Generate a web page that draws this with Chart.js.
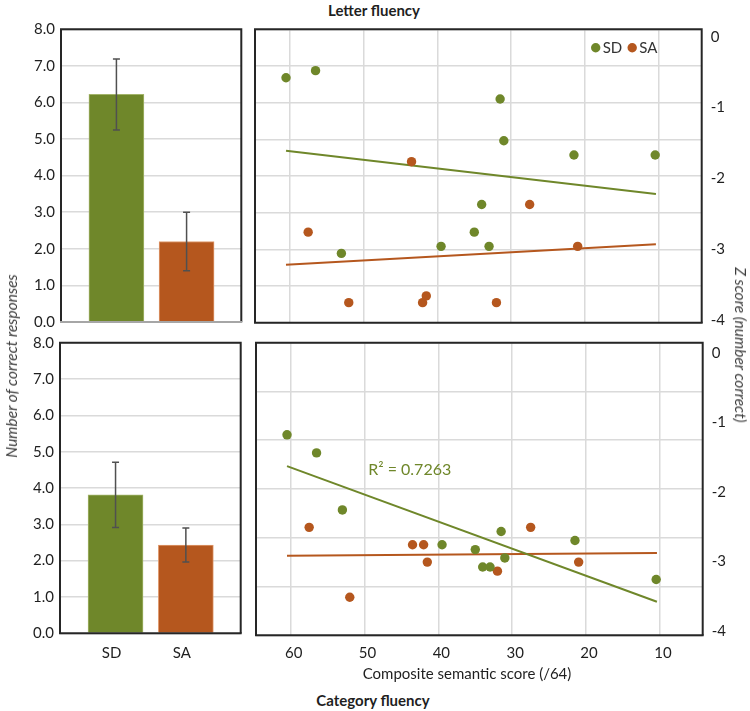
<!DOCTYPE html>
<html><head><meta charset="utf-8">
<script src="https://cdn.jsdelivr.net/npm/chart.js@4/dist/chart.umd.min.js"></script>
<style>
html,body{margin:0;padding:0;background:#fff;width:750px;height:711px;overflow:hidden;font-family:Lato,'Open Sans',sans-serif;}
canvas{position:absolute;}
.t{position:absolute;white-space:nowrap;color:#1f1f1f;transform:translate(-50%,-50%);}
</style></head><body>
<canvas id="barTop" width="250" height="310" style="left:0;top:20px"></canvas>
<canvas id="barBot" width="250" height="340" style="left:0;top:330px"></canvas>
<canvas id="scTop" width="500" height="310" style="left:250px;top:20px"></canvas>
<canvas id="scBot" width="500" height="340" style="left:250px;top:330px"></canvas>
<div class="t" style="left:374px;top:10px;font-weight:bold;font-size:15px;">Letter fluency</div>
<div class="t" style="left:373px;top:700px;font-weight:bold;font-size:15px;">Category fluency</div>
<div class="t" style="left:467px;top:673px;font-size:15px;">Composite semantic score (/64)</div>
<div class="t" style="left:11px;top:366px;font-style:italic;font-size:15.5px;color:#3c3c3c;transform:translate(-50%,-50%) rotate(-90deg);">Number of correct responses</div>
<div class="t" style="left:741px;top:345px;font-style:italic;font-size:15.5px;color:#3c3c3c;transform:translate(-50%,-50%) rotate(90deg);">Z score (number correct)</div>
<script>
// ---- data ----
const groups = ['SD', 'SA'];
const letterMeans = [6.22, 2.20];
const letterErr = [0.97, 0.80];
const categoryMeans = [3.81, 2.43];
const categoryErr = [0.90, 0.47];
const barTicks = [0, 1, 2, 3, 4, 5, 6, 7, 8];
const zTicks = [0, -1, -2, -3, -4];
const semanticTicks = [60, 50, 40, 30, 20, 10];
const sdSemantic = [60.5, 56.5, 53, 39.5, 35, 34, 33, 31.5, 31, 21.5, 10.5];
const sdLetterZ = [-0.58, -0.48, -3.06, -2.96, -2.76, -2.37, -2.96, -0.88, -1.47, -1.67, -1.67];
const sdCategoryZ = [-1.18, -1.44, -2.26, -2.76, -2.83, -3.08, -3.08, -2.57, -2.95, -2.70, -3.26];
const saSemantic = [57.5, 52, 43.5, 42, 41.5, 32, 27.5, 21];
const saLetterZ = [-2.76, -3.755, -1.765, -3.755, -3.66, -3.755, -2.37, -2.96];
const saCategoryZ = [-2.51, -3.515, -2.76, -2.76, -3.01, -3.14, -2.51, -3.01];
const trendX = [60.5, 10.4];
const sdLetterTrend = [-1.61, -2.22];
const saLetterTrend = [-3.22, -2.93];
const sdCategoryTrend = [-1.63, -3.58];
const saCategoryTrend = [-2.92, -2.88];
const r2Text = 'R\u00b2 = 0.7263';
const r2At = [49.5, -1.69];

// ---- style ----
const GREEN = '#6f872a', ORANGE = '#b5571e';
const GRID = '#dadada', INK = '#1f1f1f';
Chart.defaults.font.family = "Lato, 'Open Sans', sans-serif";
Chart.defaults.font.size = 15;
Chart.defaults.color = INK;
Chart.defaults.animation = false;

function fixSize(dim, val) {
  return (s) => {
    s[dim] = val;
    s.paddingTop = 0; s.paddingBottom = 0; s.paddingLeft = 0; s.paddingRight = 0;
  };
}
function setTicks(vals) { return (s) => { s.ticks = vals.map(v => ({ value: v })); }; }

const framePlugin = {
  id: 'frame',
  afterDraw(chart, args, opts) {
    const a = chart.chartArea, c = chart.ctx;
    c.save();
    c.lineWidth = 2;
    c.strokeStyle = '#262626';
    c.beginPath();
    c.moveTo(a.left, a.bottom); c.lineTo(a.left, a.top); c.lineTo(a.right, a.top); c.lineTo(a.right, a.bottom);
    c.stroke();
    c.strokeStyle = opts.bottomColor || '#262626';
    c.beginPath(); c.moveTo(a.left - 1, a.bottom); c.lineTo(a.right + 1, a.bottom); c.stroke();
    c.restore();
  }
};

const errPlugin = {
  id: 'errbars',
  afterDatasetsDraw(chart, args, opts) {
    const meta = chart.getDatasetMeta(0), ys = chart.scales.y, c = chart.ctx;
    c.save();
    c.strokeStyle = '#505050'; c.lineWidth = 1.5;
    meta.data.forEach((bar, i) => {
      const m = chart.data.datasets[0].data[i].y, e = opts.errors[i];
      const y1 = ys.getPixelForValue(m + e), y2 = ys.getPixelForValue(m - e);
      c.beginPath();
      c.moveTo(bar.x, y1); c.lineTo(bar.x, y2);
      c.moveTo(bar.x - 3.5, y1); c.lineTo(bar.x + 3.5, y1);
      c.moveTo(bar.x - 3.5, y2); c.lineTo(bar.x + 3.5, y2);
      c.stroke();
    });
    c.restore();
  }
};

function barChart(id, means, errs, pad, yWidth, showX, xHeight, bottomColor) {
  return new Chart(document.getElementById(id), {
    type: 'bar',
    data: {
      datasets: [{
        data: groups.map((g, i) => ({ x: i, y: means[i] })),
        backgroundColor: [GREEN, ORANGE],
        borderColor: ['#a3b46a', '#e09a6e'],
        borderWidth: { left: 1, right: 1, top: 1, bottom: 0 },
        barThickness: 55
      }]
    },
    options: {
      responsive: false, devicePixelRatio: 1,
      layout: { padding: pad },
      plugins: { legend: { display: false }, tooltip: { enabled: false },
        errbars: { errors: errs }, frame: { bottomColor } },
      scales: {
        x: {
          type: 'linear', min: -0.79, max: 1.78, offset: false,
          display: true,
          afterBuildTicks: setTicks(groups.map((g, i) => i)),
          afterFit: fixSize('height', xHeight),
          grid: { display: false, drawTicks: false, offset: false },
          border: { display: false },
          ticks: { display: showX, padding: 11, labelOffset: -4, callback: (v) => groups[v] }
        },
        y: {
          min: 0, max: 8,
          afterBuildTicks: setTicks(barTicks),
          afterFit: fixSize('width', yWidth),
          grid: { color: GRID, lineWidth: 1.5, drawTicks: false },
          border: { display: false },
          ticks: { padding: 6, callback: (v) => v.toFixed(1) }
        }
      }
    },
    plugins: [errPlugin, framePlugin]
  });
}

barChart('barTop', letterMeans, letterErr, { left: 0, top: 9.3, right: 8.7, bottom: 8 }, 61, false, 0, '#a6a6a6');
barChart('barBot', categoryMeans, categoryErr, { left: 0, top: 12.7, right: 9.3, bottom: 0 }, 60, true, 36.7, '#262626');

const legendPlugin = {
  id: 'inlegend',
  afterDraw(chart, args, opts) {
    if (!opts.show) return;
    const a = chart.chartArea, c = chart.ctx;
    const y = a.top + 18.4;
    c.save();
    c.font = "15px Lato, 'Open Sans', sans-serif";
    c.textBaseline = 'middle';
    let x = a.right - 106;
    [[GREEN, 'SD'], [ORANGE, 'SA']].forEach(([col, txt]) => {
      c.fillStyle = col; c.beginPath(); c.arc(x, y, 4.7, 0, Math.PI * 2); c.fill();
      c.fillStyle = '#333'; c.fillText(txt, x + 7, y);
      x += 36.5;
    });
    c.restore();
  }
};
const r2Plugin = {
  id: 'r2',
  afterDraw(chart, args, opts) {
    if (!opts.text) return;
    const c = chart.ctx;
    c.save();
    c.font = "16px Lato, 'Open Sans', sans-serif";
    c.fillStyle = GREEN; c.textBaseline = 'middle'; c.textAlign = 'left';
    c.fillText(opts.text, chart.scales.x.getPixelForValue(opts.at[0]), chart.scales.y.getPixelForValue(opts.at[1]));
    c.restore();
  }
};

function scatterChart(id, sdZ, saZ, sdTrend, saTrend, pad, yMin, yMax, gridMax, xHeight, showX, legend, r2) {
  const pts = (xs, ys) => xs.map((x, i) => ({ x, y: ys[i] }));
  return new Chart(document.getElementById(id), {
    type: 'scatter',
    data: {
      datasets: [
        { label: 'SD', data: pts(sdSemantic, sdZ), yAxisID: 'y', xAxisID: 'x', backgroundColor: GREEN, borderWidth: 0, pointRadius: 4.7, order: 0 },
        { label: 'SA', data: pts(saSemantic, saZ), yAxisID: 'y', xAxisID: 'x', backgroundColor: ORANGE, borderWidth: 0, pointRadius: 4.7, order: 0 },
        { type: 'line', data: pts(trendX, sdTrend), yAxisID: 'y', xAxisID: 'x', borderColor: GREEN, borderWidth: 2, pointRadius: 0, order: 1 },
        { type: 'line', data: pts(trendX, saTrend), yAxisID: 'y', xAxisID: 'x', borderColor: ORANGE, borderWidth: 2, pointRadius: 0, order: 1 }
      ]
    },
    options: {
      responsive: false, devicePixelRatio: 1,
      layout: { padding: pad },
      plugins: { legend: { display: false }, tooltip: { enabled: false },
        inlegend: { show: legend }, r2: r2 || {} },
      scales: {
        x: {
          type: 'linear', reverse: true, min: 4.2, max: 64.7,
          afterBuildTicks: setTicks(semanticTicks),
          afterFit: fixSize('height', xHeight),
          grid: { color: GRID, lineWidth: 1.5, drawTicks: false },
          border: { display: false },
          ticks: { display: showX, padding: 9, labelOffset: 3 }
        },
        yg: {
          type: 'linear', position: 'left', min: 0, max: gridMax,
          afterBuildTicks: setTicks(Array.from({ length: gridMax + 1 }, (_, i) => i)),
          afterFit: fixSize('width', 0),
          grid: { color: GRID, lineWidth: 1.5, drawTicks: false },
          border: { display: false },
          ticks: { display: false }
        },
        y: {
          type: 'linear', position: 'right', min: yMin, max: yMax,
          afterBuildTicks: setTicks(zTicks),
          afterFit: fixSize('width', 500 - pad.left - 446.7 - (pad.right || 0)),
          grid: { display: false, drawTicks: false },
          border: { display: false },
          ticks: { padding: 9 }
        }
      }
    },
    plugins: [framePlugin, legendPlugin, r2Plugin]
  });
}

scatterChart('scTop', sdLetterZ, saLetterZ, sdLetterTrend, saLetterTrend,
  { left: 5, top: 9.3, right: 0, bottom: 7.3 }, -4.038, 0.104, 8, 0, false, true, null);
scatterChart('scBot', sdCategoryZ, saCategoryZ, sdCategoryTrend, saCategoryTrend,
  { left: 6, top: 12.7, right: 0, bottom: 0 }, -4.062, 0.144, 6, 34.7, true, false, { text: r2Text, at: r2At });
</script>
</body></html>
